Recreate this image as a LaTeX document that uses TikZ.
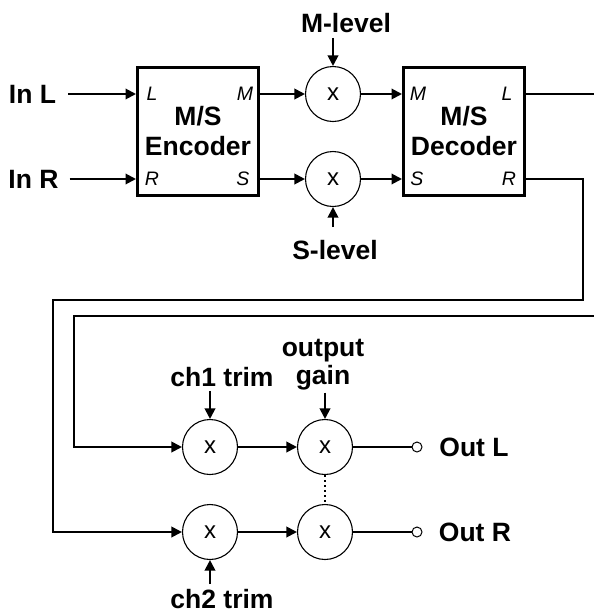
\documentclass[tikz,border=0pt]{standalone}
\usepackage{fontspec}
\setmainfont{Liberation Sans}
\usetikzlibrary{arrows.meta}
\begin{document}
\begin{tikzpicture}[x=1pt,y=-1pt,
  lbl/.style={font=\fontsize{26.5}{28}\selectfont\bfseries, inner sep=0pt, align=center},
  port/.style={font=\fontsize{19.5}{19.5}\selectfont\itshape, inner sep=0pt},
  blk/.style={draw, line width=2.8pt, minimum width=121.2pt, minimum height=128.2pt, inner sep=0pt, align=center, font=\fontsize{26.5}{30}\selectfont\bfseries},
  mult/.style={circle, draw, line width=1.1pt, minimum size=55pt, inner sep=0pt, font=\fontsize{24}{24}\selectfont},
  term/.style={circle, draw, line width=1pt, minimum size=10pt, inner sep=0pt},
  sig/.style={line width=2pt, -{Triangle[length=10.5pt,width=10.5pt]}},
  wire/.style={line width=1.3pt},
]
\useasboundingbox (0,0) rectangle (594,614);

% top section
\node[lbl] (inL) at (32.5,94) {In L};
\node[lbl] (inR) at (33.5,179) {In R};
\node[blk] (enc) at (198,131.5) {M/S\\Encoder};
\node[port] (encL) at (152,94) {L};
\node[port] (encM) at (245,94) {M};
\node[port] (encR) at (152,179) {R};
\node[port] (encS) at (243,179) {S};
\node[mult] (mM) at (333,94) {x};
\node[mult] (mS) at (333,179) {x};
\node[lbl] (mlev) at (346,23) {M-level};
\node[lbl] (slev) at (335,250) {S-level};
\node[blk] (dec) at (464,131.5) {M/S\\Decoder};
\node[port] (decM) at (418,94) {M};
\node[port] (decL) at (507,94) {L};
\node[port] (decS) at (417,179) {S};
\node[port] (decR) at (509,179) {R};

\draw[sig, shorten <=12pt] (inL.east) -- (inL.east -| enc.west);
\draw[sig, shorten <=11pt] (inR.east) -- (inR.east -| enc.west);
\draw[sig] (enc.east |- mM) -- (mM.west);
\draw[sig] (enc.east |- mS) -- (mS.west);
\draw[sig] (mM.east) -- (dec.west |- mM);
\draw[sig] (mS.east) -- (dec.west |- mS);
\draw[sig, shorten <=5pt] (mlev.south -| mM.north) -- (mM.north);
\draw[sig, shorten <=13pt] (slev.north -| mS.south) -- (mS.south);

% lower section
\node[mult] (c11) at (210,447) {x};
\node[mult] (c12) at (325,447) {x};
\node[mult] (c21) at (210,532) {x};
\node[mult] (c22) at (325,532) {x};
\node[term] (t1) at (417,447) {};
\node[term] (t2) at (417,532) {};
\node[lbl] (oL) at (474,447) {Out L};
\node[lbl] (oR) at (475,532) {Out R};
\node[lbl] (tr1) at (222,377) {ch1 trim};
\node[lbl] (gain) at (323,365) {output\\gain};
\node[lbl] (tr2) at (222,599) {ch2 trim};

% routing
\coordinate (outL) at (594,94);
\coordinate (a1) at (583,300);
\coordinate (a2) at (53,300);
\coordinate (b2) at (137,532);
\coordinate (e1) at (594,316);
\coordinate (e2) at (74,316);
\coordinate (b1) at (137,447);
\draw[wire] (dec.east |- mM) -- (outL);
\draw[wire] (dec.east |- mS) -| (a1) -- (a2) |- (b2);
\draw[wire] (e1) -- (e2) |- (b1);
\draw[sig] (b1) -- (c11.west);
\draw[sig] (b2) -- (c21.west);

\draw[sig] (c11.east) -- (c12.west);
\draw[sig] (c21.east) -- (c22.west);
\draw[wire] (c12.east) -- (t1.west);
\draw[wire] (c22.east) -- (t2.west);
\draw[wire, dash pattern=on 1.5pt off 3.5pt] (c12.south) -- (c22.north);

\draw[sig, shorten <=4pt] (tr1.south -| c11.north) -- (c11.north);
\draw[sig, shorten <=2pt] (gain.south -| c12.north) -- (c12.north);
\draw[sig, shorten <=5pt] (tr2.north -| c21.south) -- (c21.south);
\end{tikzpicture}
\end{document}
